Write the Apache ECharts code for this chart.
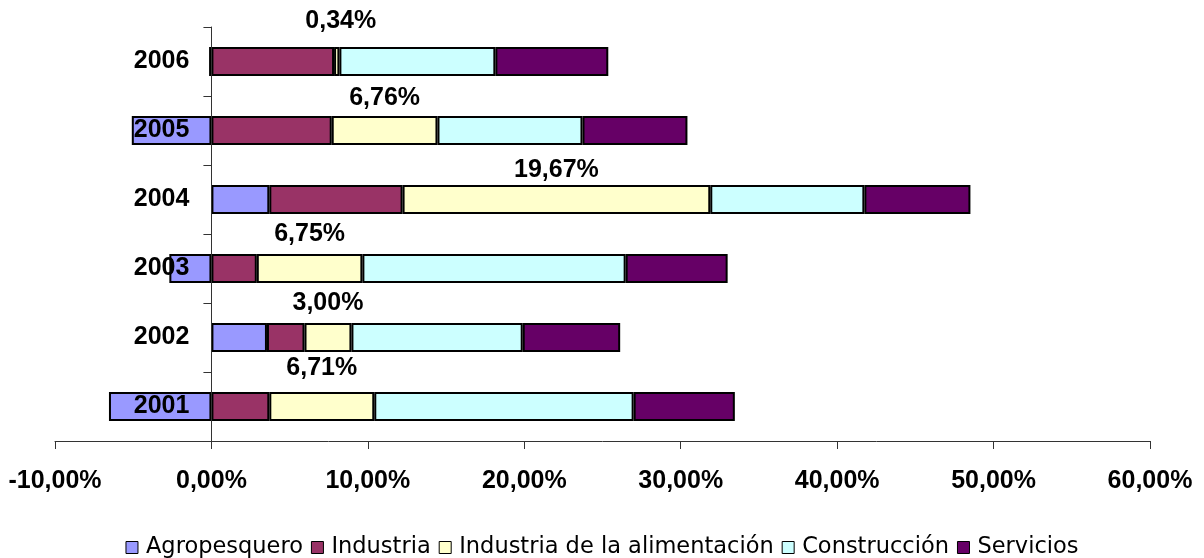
<!DOCTYPE html>
<html>
<head>
<meta charset="utf-8">
<script src="https://cdn.jsdelivr.net/npm/echarts@6/dist/echarts.min.js"></script>
<style>
html,body{margin:0;padding:0;background:#fff;}
#chart{width:1204px;height:558px;}
</style>
</head>
<body>
<div id="chart"></div>
<script>
var years = ['2001', '2002', '2003', '2004', '2005', '2006'];
var agropesquero = [-6.55, 3.55, -2.69, 3.70, -5.09, -0.15];
var industria = [3.70, 2.40, 2.90, 8.52, 7.69, 7.84];
var alimentacion = [6.71, 3.00, 6.75, 19.67, 6.76, 0.34];
var construccion = [16.58, 10.95, 16.83, 9.85, 9.27, 9.97];
var servicios = [6.47, 6.23, 6.52, 6.78, 6.71, 7.22];
var seriesNames = ['Agropesquero', 'Industria', 'Industria de la alimentación', 'Construcción', 'Servicios'];
var xTicks = [-10, 0, 10, 20, 30, 40, 50, 60];

// label placement tweaks (styling only)
var labelOffsets = [[0, -6], [0, -2], [0, -2], [0, 3], [0, 0], [4, -8]];

var colors = ['#9999FF', '#993366', '#FFFFCC', '#CCFFFF', '#660066'];
var FONT = '"Liberation Sans", Arial, sans-serif';

var GRID_LEFT = 55, GRID_RIGHT = 54;
var plotW = 1204 - GRID_LEFT - GRID_RIGHT;
var xMin = xTicks[0], xMax = xTicks[xTicks.length - 1];
var zeroShift = plotW * (0 - xMin) / (xMax - xMin);

function pct(v) { return v.toFixed(2).replace('.', ',') + '%'; }

var seriesData = [agropesquero, industria, alimentacion, construccion, servicios];
var series = seriesData.map(function (arr, i) {
  var s = {
    name: seriesNames[i],
    type: 'bar',
    stack: 'total',
    barWidth: 29,
    itemStyle: { color: colors[i], borderColor: '#000', borderWidth: 2 },
    emphasis: { disabled: true },
    data: arr.slice()
  };
  if (i === 2) {
    s.data = arr.map(function (v, k) {
      return { value: v, label: { offset: labelOffsets[k] } };
    });
    s.label = {
      show: true,
      position: 'top',
      distance: 5,
      fontFamily: FONT,
      fontWeight: 'bold',
      fontSize: 25,
      color: '#000',
      formatter: function (p) { return pct(p.value); }
    };
  }
  return s;
});

var chart = echarts.init(document.getElementById('chart'), null, { renderer: 'canvas' });
chart.setOption({
  animation: false,
  backgroundColor: '#fff',
  grid: { left: GRID_LEFT, right: GRID_RIGHT, top: 27, bottom: 117, containLabel: false, outerBoundsMode: 'none' },
  legend: {
    data: seriesNames,
    top: 531,
    left: 'center',
    icon: 'rect',
    itemWidth: 12,
    itemHeight: 12,
    itemGap: 8,
    itemStyle: { borderColor: '#000', borderWidth: 1 },
    textStyle: { fontFamily: '"DejaVu Sans", sans-serif', fontSize: 22.5, color: '#000', padding: [0, 0, 0, 3] }
  },
  xAxis: {
    type: 'value',
    min: xMin,
    max: xMax,
    interval: 10,
    splitLine: { show: false },
    axisLine: { show: true, onZero: false, lineStyle: { color: '#333', width: 1 } },
    axisTick: { show: true, length: 8, lineStyle: { color: '#333' } },
    axisLabel: {
      margin: 28,
      fontFamily: FONT,
      fontWeight: 'bold',
      fontSize: 25,
      color: '#000',
      formatter: function (v) { return pct(v); }
    }
  },
  yAxis: {
    type: 'category',
    data: years,
    z: 10,
    position: 'left',
    offset: -zeroShift,
    axisLine: { show: true, onZero: false, lineStyle: { color: '#333', width: 1 } },
    axisTick: { show: true, length: 8, lineStyle: { color: '#333' } },
    axisLabel: {
      margin: 22,
      fontFamily: FONT,
      fontWeight: 'bold',
      fontSize: 25,
      color: '#000'
    }
  },
  series: series
});
</script>
</body>
</html>
